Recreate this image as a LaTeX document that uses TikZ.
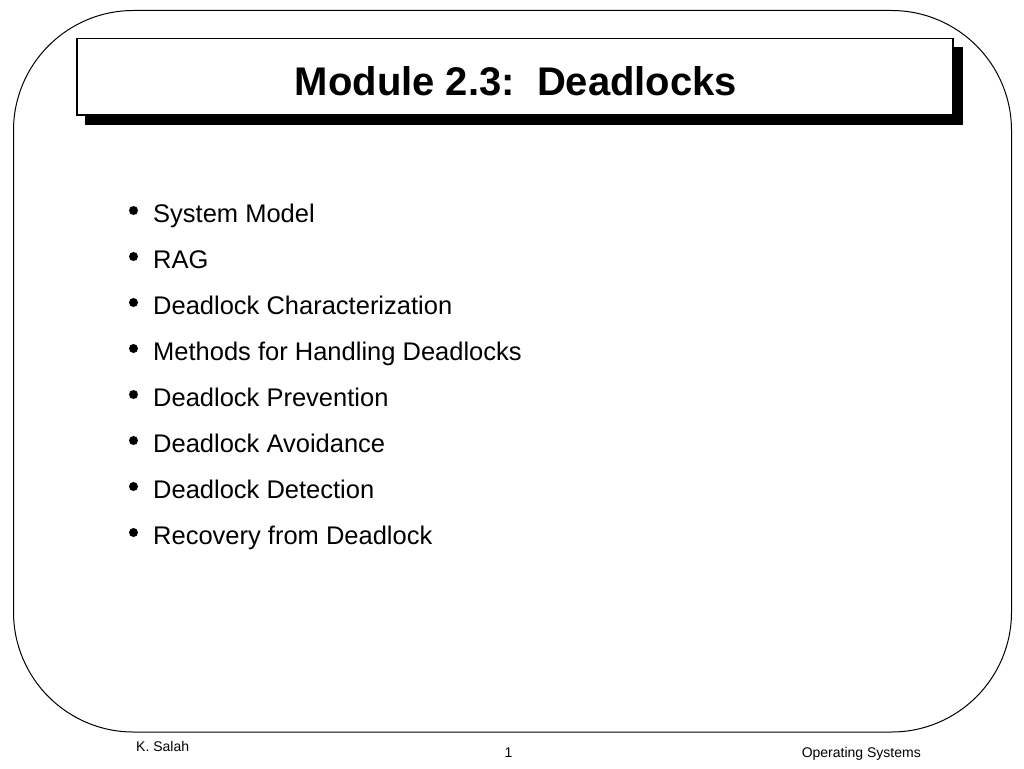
\documentclass[tikz,border=0pt]{standalone}
\usepackage{fontspec}
\setmainfont{Liberation Sans}
\begin{document}
\begin{tikzpicture}[x=1pt,y=-1pt,
  item/.style={anchor=base west,inner sep=0pt,font=\fontsize{25.5}{30}\selectfont},
  foot/.style={inner sep=0pt,font=\fontsize{14}{16}\selectfont},
  bul/.style={circle,fill=black,inner sep=0pt,minimum size=9pt}]
\useasboundingbox (0,0) rectangle (1024,768);
\fill[white] (0,0) rectangle (1024,768);
% outer frame
\draw[line width=1pt,rounded corners=120pt] (13.5,10.5) rectangle (1011.5,732);
% title box with shadow
\fill[black] (85,47) rectangle (963,125);
\draw[line width=1.2pt,fill=white] (77,38.5) rectangle (953,115);
\node[anchor=base,inner sep=0pt,font=\fontsize{40}{46}\selectfont\bfseries] (title) at (516,95) {Module 2.3:\ \ Deadlocks};
% items
\foreach \t [count=\i from 0] in {System Model,RAG,Deadlock Characterization,Methods for Handling Deadlocks,Deadlock Prevention,Deadlock Avoidance,Deadlock Detection,Recovery from Deadlock}{
  \node[bul] (b\i) at (133.5,222+46*\i-11.5) {};
  \node[item] (t\i) at (153,222+46*\i) {\t};
}
% footer
\node[foot,anchor=base west] (author) at (136,751) {K. Salah};
\node[foot,anchor=base] (page) at (508.5,757) {1};
\node[foot,anchor=base east] (course) at (921,757) {Operating Systems};
\end{tikzpicture}
\end{document}
